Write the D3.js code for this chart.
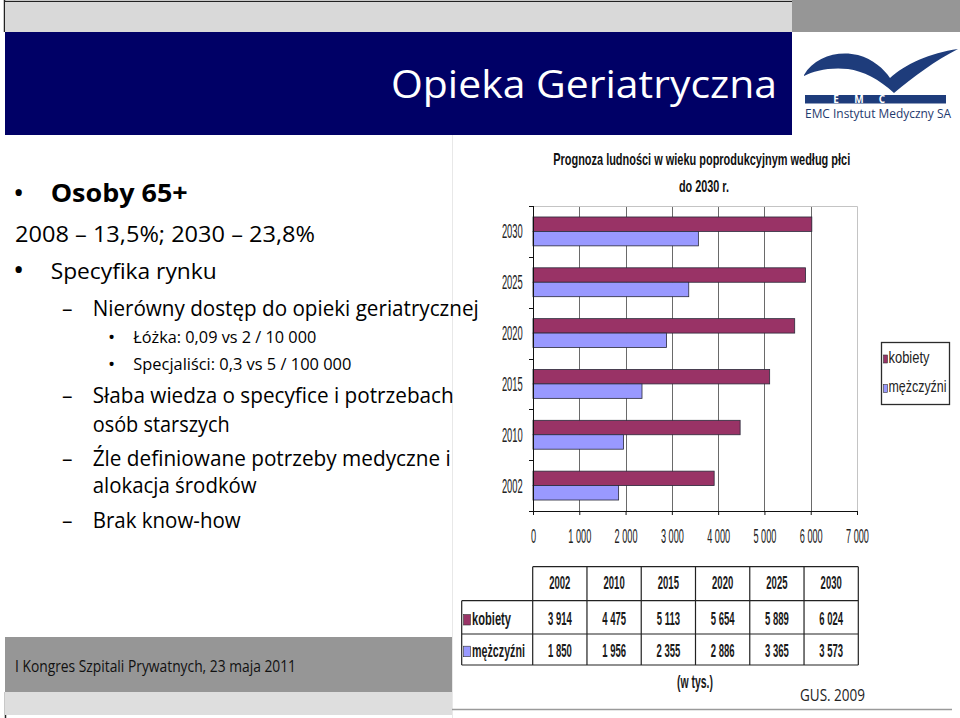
<!DOCTYPE html>
<head>
<meta charset="utf-8">
<style>
body, html {
  margin: 0;
  padding: 0;
  background: #fff;
}
.slide text {
  font-family: "Open Sans", sans-serif;
}
.chart text {
  font-family: "Liberation Sans", Arial, sans-serif;
}
</style>
<script src="https://d3js.org/d3.v7.min.js"></script>
</head>

<body>
<div id="slide"></div>

<script>

//==========================================
// data
var years = ["2002", "2010", "2015", "2020", "2025", "2030"];
var kobiety = [3914, 4475, 5113, 5654, 5889, 6024];
var mezczyzni = [1850, 1956, 2355, 2886, 3365, 3573];
var seriesNames = ["kobiety", "mężczyźni"];
var seriesColors = ["#993366", "#9999ff"];
var xTicks = [0, 1000, 2000, 3000, 4000, 5000, 6000, 7000];

var slideTitle = "Opieka Geriatryczna";
var chartTitle = ["Prognoza ludności w wieku poprodukcyjnym według płci", "do 2030 r."];
var footerText = "I Kongres Szpitali Prywatnych, 23 maja 2011";
var unitText = "(w tys.)";
var sourceText = "GUS. 2009";

// bullet list: level + text
var bullets = [
  {lvl: "head", text: "Osoby 65+", bold: true},
  {lvl: "plain", text: "2008 – 13,5%; 2030 – 23,8%"},
  {lvl: "head", text: "Specyfika rynku"},
  {lvl: "dash", text: "Nierówny dostęp do opieki geriatrycznej"},
  {lvl: "sub", text: "Łóżka: 0,09 vs 2 / 10 000"},
  {lvl: "sub", text: "Specjaliści: 0,3 vs 5 / 100 000"},
  {lvl: "dash", text: "Słaba wiedza o specyfice i potrzebach"},
  {lvl: "cont", text: "osób starszych"},
  {lvl: "dash", text: "Źle definiowane potrzeby medyczne i"},
  {lvl: "cont", text: "alokacja środków"},
  {lvl: "dash", text: "Brak know-how"}
];

//==========================================
// layout
var width = 960,
    height = 718;

var lineY = [202, 242, 279, 316, 343, 370, 403, 432, 466, 493, 528];
var lineW = [137, 300, 166, 386, 183, 218, 361, 137, 358, 164, 148];
var lvlStyle = {
  head:  {x: 50.7, marker: "•", mx: 13, msize: 30, size: 21},
  plain: {x: 15, marker: null, size: 21},
  dash:  {x: 92.7, marker: "–", mx: 62, msize: 21, size: 21},
  sub:   {x: 133.3, marker: "•", mx: 108, msize: 19, size: 15.5},
  cont:  {x: 92.7, marker: null, size: 21}
};

var plot = {left: 533, right: 857, top: 206, bottom: 511};
var tbl = {left: 532.7, right: 858.3, label: 461.7, rows: [566.7, 600.7, 634, 665]};
var leg = {x: 881.5, y: 342.5, w: 68, h: 62};

var fmt = d3.formatLocale({decimal: ",", thousands: " ", grouping: [3], currency: ["", ""]}).format(",d");

var svg = d3.select('#slide').append('svg')
    .attr('width', width)
    .attr('height', height);

//--------------------------------------
// slide frame
var slide = svg.append('g').attr('class', 'slide');

slide.append('rect').attr('x', 5).attr('y', 2).attr('width', 787).attr('height', 30).attr('fill', '#d9d9d9');
slide.append('rect').attr('x', 792).attr('y', 0).attr('width', 168).attr('height', 32).attr('fill', '#969696');
slide.append('path').attr('d', 'M4,1.5H792M4.5,0V32').attr('stroke', '#222').attr('stroke-width', 1.5).attr('fill', 'none');
slide.append('rect').attr('x', 5).attr('y', 32).attr('width', 787).attr('height', 103).attr('fill', '#000066');

slide.append('text')
    .attr('x', 391).attr('y', 98)
    .attr('textLength', 386).attr('lengthAdjust', 'spacingAndGlyphs')
    .attr('fill', '#fff')
    .style('font-size', '39px')
    .text(slideTitle);

// logo
var logo = slide.append('g');
logo.append('path')
    .attr('d', 'M804,75 C814,57 838,50 858,55 C873,59 884,69 890,78 C905,64 930,53 958,49 ' +
               'C936,60 913,77 894,93 C879,79 863,71 848,69 C829,67 814,71 804,76 Z')
    .attr('fill', '#1e3c7b');
logo.append('rect').attr('x', 805).attr('y', 95).attr('width', 141).attr('height', 8.5).attr('fill', '#1e3c7b');
logo.selectAll('text.emc').data(["E", "M", "C"]).enter().append('text')
    .attr('class', 'emc')
    .attr('x', function(d, i) { return 836 + i * 23; })
    .attr('y', 102.8)
    .attr('fill', '#fff')
    .attr('text-anchor', 'middle')
    .style('font-size', '10px').style('font-weight', 'bold')
    .text(function(d) { return d; });
logo.append('text')
    .attr('x', 805).attr('y', 118)
    .attr('textLength', 146).attr('lengthAdjust', 'spacingAndGlyphs')
    .attr('fill', '#1f3a6e')
    .style('font-size', '12.5px')
    .text("EMC Instytut Medyczny SA");

// footer
slide.append('rect').attr('x', 5).attr('y', 637).attr('width', 447).attr('height', 55).attr('fill', '#969696');
slide.append('rect').attr('x', 5).attr('y', 692).attr('width', 447).attr('height', 23).attr('fill', '#dedede');
slide.append('path').attr('d', 'M5.5,692V718').attr('stroke', '#222').attr('stroke-width', 1.5);
slide.append('text')
    .attr('x', 15).attr('y', 671.7)
    .attr('textLength', 281).attr('lengthAdjust', 'spacingAndGlyphs')
    .attr('fill', '#111')
    .style('font-size', '16.5px')
    .text(footerText);

//--------------------------------------
// chart panel (pasted picture)
var chart = svg.append('g').attr('class', 'chart');

chart.append('rect').attr('x', 452).attr('y', 133).attr('width', 508).attr('height', 585).attr('fill', '#fff');
chart.append('path').attr('d', 'M452.5,133V718').attr('stroke', '#e8e8e8');
chart.append('path').attr('d', 'M452,709.5H952').attr('stroke', '#9a9a9a').attr('stroke-width', 1.5);

chart.selectAll('text.ctitle').data(chartTitle).enter().append('text')
    .attr('class', 'ctitle')
    .attr('x', function(d, i) { return i ? 704 : 701.7; })
    .attr('y', function(d, i) { return i ? 192 : 165; })
    .attr('text-anchor', 'middle')
    .attr('textLength', function(d, i) { return i ? 50 : 297; })
    .attr('lengthAdjust', 'spacingAndGlyphs')
    .style('font-size', '17px').style('font-weight', 'bold')
    .attr('fill', '#111')
    .text(function(d) { return d; });

var x = d3.scaleLinear().domain([0, 7000]).range([plot.left, plot.right]);
var y = d3.scaleBand().domain(years.slice().reverse()).range([plot.top, plot.bottom]);
var ySub = d3.scaleBand().domain(seriesNames).range([0, y.bandwidth()]).paddingOuter(0.76);

// grid + plot border
chart.selectAll('line.grid').data(xTicks.slice(1, -1)).enter().append('line')
    .attr('class', 'grid')
    .attr('x1', function(d) { return Math.round(x(d)) + 0.5; })
    .attr('x2', function(d) { return Math.round(x(d)) + 0.5; })
    .attr('y1', plot.top).attr('y2', plot.bottom)
    .attr('stroke', '#6a6a6a');
chart.append('path')
    .attr('d', 'M' + plot.left + ',' + (plot.top + 0.5) + 'H' + (plot.right + 0.5) + 'V' + plot.bottom)
    .attr('stroke', '#c4c4c4').attr('fill', 'none');

// bars
var rows = years.map(function(yr, i) {
  return {year: yr, values: [kobiety[i], mezczyzni[i]]};
});
var grp = chart.selectAll('g.yr').data(rows).enter().append('g')
    .attr('class', 'yr')
    .attr('transform', function(d) { return 'translate(0,' + y(d.year) + ')'; });
grp.selectAll('rect').data(function(d) {
    return d.values.map(function(v, j) { return {name: seriesNames[j], v: v, c: seriesColors[j]}; });
  }).enter().append('rect')
    .attr('x', x(0))
    .attr('y', function(d) { return ySub(d.name); })
    .attr('width', function(d) { return x(d.v) - x(0); })
    .attr('height', ySub.bandwidth())
    .attr('fill', function(d) { return d.c; })
    .attr('stroke', '#2a2a3a').attr('stroke-width', 0.8);

// y axis
chart.append('path').attr('d', 'M' + (plot.left + 0.5) + ',' + plot.top + 'V' + plot.bottom).attr('stroke', '#111');
chart.selectAll('line.ytick').data(d3.range(years.length + 1)).enter().append('line')
    .attr('class', 'ytick')
    .attr('x1', plot.left - 4).attr('x2', plot.left)
    .attr('y1', function(i) { return Math.round(plot.top + i * y.step()) + 0.5; })
    .attr('y2', function(i) { return Math.round(plot.top + i * y.step()) + 0.5; })
    .attr('stroke', '#111');
chart.selectAll('text.ylab').data(years).enter().append('text')
    .attr('class', 'ylab')
    .attr('text-anchor', 'end')
    .attr('transform', function(d) { return 'translate(522.7,' + (y(d) + y.bandwidth() / 2 + 7) + ') scale(0.48,1)'; })
    .style('font-size', '19.5px')
    .attr('fill', '#222')
    .text(function(d) { return d; });

// x axis
var xAxis = chart.append('g')
    .attr('transform', 'translate(0,' + plot.bottom + ')')
    .call(d3.axisBottom(x).tickValues(xTicks).tickSize(4).tickSizeOuter(0).tickFormat(fmt));
xAxis.select('.domain').attr('d', 'M' + (plot.left - 3) + ',0.5H' + plot.right).attr('stroke', '#111');
xAxis.selectAll('.tick line').attr('stroke', '#111');
xAxis.selectAll('.tick text')
    .attr('y', 32.3).attr('dy', 0)
    .attr('transform', 'scale(0.47,1)')
    .style('font-size', '19.5px')
    .attr('fill', '#222');

//--------------------------------------
// data table
var col = d3.scaleBand().domain(years).range([tbl.left, tbl.right]);
var table = chart.append('g');
var hl = 'M' + tbl.left + ',' + tbl.rows[0] + 'H' + tbl.right +
    'M' + tbl.label + ',' + tbl.rows[1] + 'H' + tbl.right +
    'M' + tbl.label + ',' + tbl.rows[2] + 'H' + tbl.right +
    'M' + tbl.label + ',' + tbl.rows[3] + 'H' + tbl.right +
    'M' + tbl.label + ',' + tbl.rows[1] + 'V' + tbl.rows[3];
years.forEach(function(yr) { hl += 'M' + col(yr) + ',' + tbl.rows[0] + 'V' + tbl.rows[3]; });
hl += 'M' + tbl.right + ',' + tbl.rows[0] + 'V' + tbl.rows[3];
table.append('path').attr('d', hl).attr('stroke', '#222').attr('stroke-width', 1.2).attr('fill', 'none');

function cell(txt, cx, by) {
  table.append('text')
      .attr('text-anchor', 'middle')
      .attr('transform', 'translate(' + cx + ',' + by + ') scale(0.5,1)')
      .style('font-size', '19px').style('font-weight', 'bold')
      .attr('fill', '#1a1a1a')
      .text(txt);
}
years.forEach(function(yr, i) {
  var cx = col(yr) + col.bandwidth() / 2;
  cell(yr, cx, 589);
  cell(fmt(kobiety[i]), cx, 625);
  cell(fmt(mezczyzni[i]), cx, 656.7);
});

var rowW = [39, 53];
seriesNames.forEach(function(name, i) {
  var by = i ? 656.7 : 625;
  table.append('rect')
      .attr('x', 463.5).attr('y', by - 10.5).attr('width', 7).attr('height', 10.5)
      .attr('fill', seriesColors[i]).attr('stroke', '#333').attr('stroke-width', 0.6);
  table.append('text')
      .attr('x', 472).attr('y', by)
      .attr('textLength', rowW[i]).attr('lengthAdjust', 'spacingAndGlyphs')
      .style('font-size', '18px').style('font-weight', 'bold')
      .attr('fill', '#1a1a1a')
      .text(name);
});

chart.append('text')
    .attr('x', 695).attr('y', 687.7)
    .attr('text-anchor', 'middle')
    .attr('textLength', 36).attr('lengthAdjust', 'spacingAndGlyphs')
    .style('font-size', '18px').style('font-weight', 'bold')
    .attr('fill', '#1a1a1a')
    .text(unitText);

slide.raise();
slide.selectAll('rect, path').lower();

//--------------------------------------
// bullet text (drawn last: it runs over the picture edge)
var txt = svg.append('g').attr('class', 'slide');

txt.append('text')
    .attr('x', 800).attr('y', 700.7)
    .attr('textLength', 65).attr('lengthAdjust', 'spacingAndGlyphs')
    .style('font-size', '17px')
    .attr('fill', '#222')
    .text(sourceText);

bullets.forEach(function(b, i) {
  var st = lvlStyle[b.lvl];
  if (st.marker) {
    txt.append('text')
        .attr('x', st.mx).attr('y', lineY[i] + (st.marker === "•" ? 1 : 0))
        .style('font-size', st.msize + 'px')
        .text(st.marker);
  }
  txt.append('text')
      .attr('x', st.x).attr('y', lineY[i])
      .attr('textLength', lineW[i]).attr('lengthAdjust', 'spacingAndGlyphs')
      .style('font-size', (b.bold ? 25 : st.size) + 'px')
      .style('font-weight', b.bold ? 'bold' : 'normal')
      .attr('fill', '#000')
      .text(b.text);
});

//--------------------------------------
// legend
var legend = svg.append('g').attr('class', 'chart');
legend.append('rect')
    .attr('x', leg.x).attr('y', leg.y).attr('width', leg.w).attr('height', leg.h)
    .attr('fill', 'none').attr('stroke', '#2b2b2b').attr('stroke-width', 1.3);

var legW = [41, 58];
var li = legend.selectAll('g.li').data(seriesNames).enter().append('g')
    .attr('class', 'li')
    .attr('transform', function(d, i) { return 'translate(' + (leg.x + 2) + ',' + (leg.y + 12.5 + i * 29.5) + ')'; });
li.append('rect').attr('width', 4).attr('height', 8)
    .attr('fill', function(d, i) { return seriesColors[i]; })
    .attr('stroke', '#333').attr('stroke-width', 0.6);
li.append('text')
    .attr('x', 5).attr('y', 7.5)
    .attr('textLength', function(d, i) { return legW[i]; })
    .attr('lengthAdjust', 'spacingAndGlyphs')
    .style('font-size', '16px')
    .attr('fill', '#222')
    .text(function(d) { return d; });

</script>
